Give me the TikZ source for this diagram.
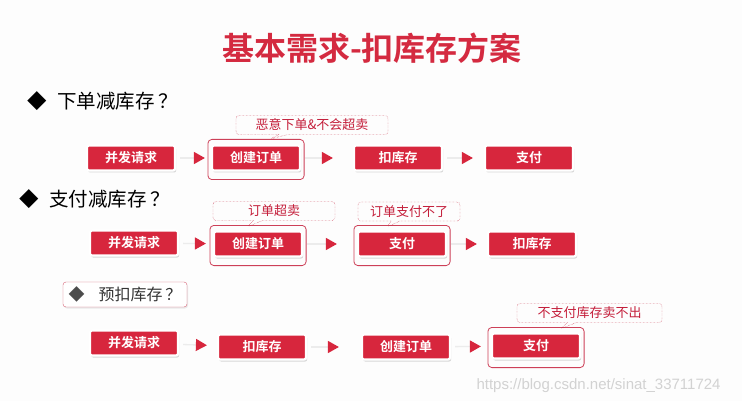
\documentclass[tikz,border=0pt]{standalone}
\usepackage{fontspec}
\setmainfont{Noto Sans CJK SC}[BoldFont={Noto Sans CJK SC Bold}]
\newfontfamily\urlfont{Liberation Sans}
\usepackage{xcolor}
\usetikzlibrary{arrows.meta,shadows,shapes.callouts}
\definecolor{boxred}{HTML}{D7263D}
\definecolor{titlered}{HTML}{D42A40}
\definecolor{notered}{HTML}{C41E3A}
\definecolor{bgcol}{HTML}{FDFDFD}
\newcommand{\btnfont}{\fontsize{13}{13}\selectfont\bfseries}
\newcommand{\notefont}{\fontsize{13}{13}\selectfont}
\newcommand{\headfont}{\fontsize{19.5}{20}\selectfont}
\newcommand{\bigred}{\fontsize{32}{32}\selectfont\bfseries}

\begin{document}
\begin{tikzpicture}[x=1pt, y=-1pt,
  btn/.style={fill=boxred, draw=white, line width=2.2pt, rounded corners=2pt,
    minimum width=88pt, minimum height=25pt, text=white, font=\btnfont,
    drop shadow={shadow xshift=1.2pt, shadow yshift=-2pt, opacity=0.3}},
  flow/.style={gray!15, line width=1.3pt, shorten <=4pt,
    -{Triangle[length=11pt, width=12pt, color=boxred]}},
  note/.style={rectangle callout, draw=notered, densely dotted, rounded corners=3pt,
    minimum height=19pt, text=notered, font=\notefont, callout pointer width=9pt},
  hl/.style={draw=notered!85, line width=0.8pt, rounded corners=4pt}]
\fill[bgcol] (0,0) rectangle (742,401);

% title and headings
\node[text=titlered, font=\bigred] (title) at (372,48) {基本需求-扣库存方案};
\node[anchor=west, font=\headfont] (h1) at (24,101) {◆\hspace{10pt}下单减库存\hspace{4pt}？};
\node[anchor=west, font=\headfont] (h2) at (16,199) {◆\hspace{10pt}支付减库存\hspace{4pt}？};
\node[draw=notered!70, fill=white, rounded corners=3pt, minimum width=124pt, minimum height=25pt,
  text=black!80, font=\fontsize{16}{16}\selectfont,
  drop shadow={shadow xshift=1pt, shadow yshift=-1.5pt, opacity=0.15}] (h3) at (125,294.5)
  {{\color{black!70}◆}\hspace{14pt}预扣库存\hspace{3pt}？};

% boxes
\foreach \name/\x/\y/\txt in {n11/131/158/并发请求, n12/256/158/创建订单, n13/398/158/扣库存, n14/529/158/支付,
  n21/134/243/并发请求, n22/258/244/创建订单, n23/402/244/支付, n24/532/244/扣库存,
  n31/134/343/并发请求, n32/262/347/扣库存, n33/406/347/创建订单, n34/536/346/支付}{
  \node[btn] (\name) at (\x,\y) {\txt};
}

% outlines
\foreach \n in {n12,n22,n23,n34}{
  \draw[hl] ([shift={(-3,-5)}]\n.north west) rectangle ([shift={(3,8)}]\n.south east);
}

% connectors
\foreach \a/\b/\s in {n11/n12/6, n12/n13/20, n13/n14/11,
  n21/n22/7, n22/n23/20, n23/n24/10,
  n31/n32/10, n32/n33/22, n33/n34/10}{
  \draw[flow, shorten >=\s pt] (\a) -- (\b);
}

% callouts
\node[note, minimum width=152pt, callout absolute pointer={(270,139)}] (c1) at (312,125) {恶意下单\&不会超卖};
\node[note, minimum width=122pt, callout absolute pointer={(247,227)}] (c2) at (274,211) {订单超卖};
\node[note, minimum width=102pt, callout absolute pointer={(387,227)}] (c3) at (409,211.5) {订单支付不了};
\node[note, minimum width=145pt, callout absolute pointer={(560,329)}] (c4) at (589.5,313) {不支付库存卖不出};

\node[anchor=base west, text=gray!35, font=\urlfont\fontsize{15}{15}\selectfont] (url) at (473,389)
  {https://blog.csdn.net/sinat\_33711724};
\end{tikzpicture}
\end{document}
